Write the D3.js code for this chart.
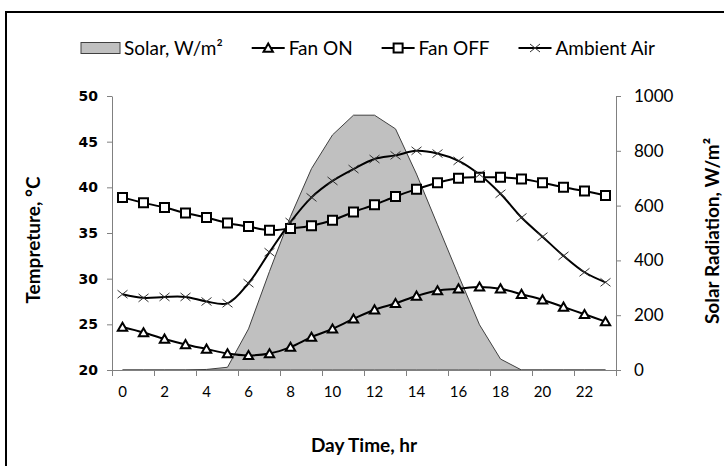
<!DOCTYPE html>
<html>
<head>
<meta charset="utf-8">
<script src="https://cdn.jsdelivr.net/npm/d3@7"></script>
<style>
body { margin: 0; background: #fff; }
text { font-family: Lato, "Open Sans", sans-serif; fill: #000; }
</style>
</head>
<body>
<div id="chart"></div>
<script>
// hours of the day (categories)
var hours = [0, 1, 2, 3, 4, 5, 6, 7, 8, 9, 10, 11, 12, 13, 14, 15, 16, 17, 18, 19, 20, 21, 22, 23];
var hourLabels = [0, 2, 4, 6, 8, 10, 12, 14, 16, 18, 20, 22];

// temperatures, C
var fanOn = [24.7, 24.1, 23.4, 22.8, 22.3, 21.8, 21.6, 21.8, 22.5, 23.6, 24.5, 25.6,
             26.6, 27.3, 28.1, 28.7, 28.9, 29.1, 28.9, 28.3, 27.7, 26.9, 26.1, 25.3];
var fanOff = [38.9, 38.3, 37.8, 37.2, 36.7, 36.1, 35.7, 35.3, 35.5, 35.8, 36.4, 37.3,
              38.1, 39.0, 39.8, 40.5, 41.0, 41.1, 41.1, 40.9, 40.5, 40.0, 39.6, 39.1];
var ambient = [28.3, 27.9, 28.0, 28.0, 27.5, 27.3, 29.5, 32.9, 36.2, 38.9, 40.7, 42.0,
               43.1, 43.5, 44.0, 43.7, 42.9, 41.4, 39.3, 36.7, 34.6, 32.5, 30.7, 29.6];
// solar radiation, W/m2
var solar = [0, 0, 0, 0, 2, 10, 150, 360, 560, 735, 858, 930,
             930, 880, 715, 530, 345, 165, 40, 0, 0, 0, 0, 0];

var tempTicks = [20, 25, 30, 35, 40, 45, 50];
var solarTicks = [0, 200, 400, 600, 800, 1000];

var W = 724, H = 466;
var plotL = 112, plotR = 616, plotT = 96, plotB = 370;

var svg = d3.select("#chart").append("svg")
    .attr("width", W)
    .attr("height", H);

// outer frame (right and bottom edges fall outside the picture)
svg.append("rect")
    .attr("x", 6).attr("y", 12)
    .attr("width", W).attr("height", H)
    .attr("fill", "none")
    .attr("stroke", "#000")
    .attr("stroke-width", 2);

var x = d3.scaleLinear().domain([0, 24]).range([plotL, plotR]);
var yT = d3.scaleLinear().domain([20, 50]).range([plotB, plotT]);
var yS = d3.scaleLinear().domain([0, 1000]).range([plotB, plotT]);

function px(d, i) { return x(hours[i] + 0.5); }

// solar area
var area = d3.area()
    .x(px)
    .y0(yS(0))
    .y1(function (d) { return yS(d); });

svg.append("path")
    .datum(solar)
    .attr("d", area)
    .attr("fill", "#c0c0c0")
    .attr("stroke", "#404040")
    .attr("stroke-width", 1);

// axes
var xAxis = svg.append("g")
    .attr("transform", "translate(0," + plotB + ")")
    .call(d3.axisBottom(x).tickValues(d3.range(0, 25, 2)).tickSize(6).tickSizeOuter(0).tickFormat(""));
xAxis.selectAll("path, line").attr("stroke", "#808080");

svg.append("g").selectAll("text")
    .data(hourLabels)
    .enter().append("text")
    .attr("x", function (d) { return x(d + 0.5); })
    .attr("y", 397)
    .attr("text-anchor", "middle")
    .style("font-size", "15px")
    .text(function (d) { return d; });

var lAxis = svg.append("g")
    .attr("transform", "translate(" + plotL + ",0)")
    .call(d3.axisLeft(yT).tickValues(tempTicks).tickSize(5).tickSizeOuter(0).tickPadding(9));
lAxis.selectAll("path, line").attr("stroke", "#808080");
lAxis.selectAll("text")
    .style("font-family", "'DejaVu Sans', Verdana, sans-serif")
    .style("font-weight", "bold")
    .style("font-size", "14px")
    .attr("fill", "#000");

var rAxis = svg.append("g")
    .attr("transform", "translate(" + plotR + ",0)")
    .call(d3.axisRight(yS).tickValues(solarTicks).tickFormat(d3.format("d"))
        .tickSize(5).tickSizeOuter(0).tickPadding(13));
rAxis.selectAll("path, line").attr("stroke", "#808080");
rAxis.selectAll("text")
    .style("font-family", "Lato, sans-serif")
    .style("font-size", "17px")
    .attr("fill", "#000");

// temperature lines
var line = function (vals) {
    return d3.line()
        .x(px)
        .y(function (d) { return yT(d); })
        .curve(d3.curveCatmullRom.alpha(0.5))(vals);
};

[fanOn, fanOff, ambient].forEach(function (vals) {
    svg.append("path")
        .attr("d", line(vals))
        .attr("fill", "none")
        .attr("stroke", "#000")
        .attr("stroke-width", 2);
});

// markers
var triangle = d3.symbol().type(d3.symbolTriangle).size(38);
var square = d3.symbol().type(d3.symbolSquare).size(81);
var crossPath = "M-5,-4L5,4M-5,4L5,-4";

svg.append("g").selectAll("path")
    .data(fanOn)
    .enter().append("path")
    .attr("transform", function (d, i) { return "translate(" + px(d, i) + "," + (yT(d) + 1) + ")"; })
    .attr("d", triangle)
    .attr("fill", "#fff")
    .attr("stroke", "#000")
    .attr("stroke-width", 2);

svg.append("g").selectAll("path")
    .data(fanOff)
    .enter().append("path")
    .attr("transform", function (d, i) { return "translate(" + px(d, i) + "," + yT(d) + ")"; })
    .attr("d", square)
    .attr("fill", "#fff")
    .attr("stroke", "#000")
    .attr("stroke-width", 2);

svg.append("g").selectAll("path")
    .data(ambient)
    .enter().append("path")
    .attr("transform", function (d, i) { return "translate(" + px(d, i) + "," + yT(d) + ")"; })
    .attr("d", crossPath)
    .attr("stroke", "#333")
    .attr("stroke-width", 1)
    .attr("fill", "none");

// axis titles
svg.append("text")
    .attr("x", 364).attr("y", 452)
    .attr("text-anchor", "middle")
    .style("font-size", "19px")
    .style("font-weight", "bold")
    .text("Day Time, hr");

svg.append("text")
    .attr("transform", "translate(40,240) rotate(-90)")
    .attr("text-anchor", "middle")
    .style("font-size", "19px")
    .style("font-weight", "bold")
    .text("Tempreture, \u00B0C");

svg.append("text")
    .attr("transform", "translate(719,231) rotate(-90)")
    .attr("text-anchor", "middle")
    .style("font-size", "19px")
    .style("font-weight", "bold")
    .text("Solar Radiation, W/m\u00B2");

// legend
var legendItems = [
    { label: "Solar, W/m\u00B2", kind: "area" },
    { label: "Fan ON", kind: "tri" },
    { label: "Fan OFF", kind: "sq" },
    { label: "Ambient Air", kind: "x" }
];
var legend = svg.append("g").attr("transform", "translate(0,48)");
var items = legend.selectAll("g")
    .data(legendItems)
    .enter().append("g");
items.append("text")
    .attr("y", 7)
    .style("font-size", "19px")
    .text(function (d) { return d.label; });

var sampleW = function (d) { return d.kind === "area" ? 39 : 33; };
var widths = [];
items.select("text").each(function (d) { widths.push(sampleW(d) + 4 + this.getComputedTextLength()); });
var gap = (655 - 81 - d3.sum(widths)) / (widths.length - 1);
var pos = 81;
items.each(function (d, i) {
    var g = d3.select(this).attr("transform", "translate(" + pos + ",0)");
    var w = sampleW(d);
    g.select("text").attr("x", w + 4);
    if (d.kind === "area") {
        g.insert("rect", "text")
            .attr("x", 0).attr("y", -5.5)
            .attr("width", w).attr("height", 11)
            .attr("fill", "#c0c0c0")
            .attr("stroke", "#404040")
            .attr("stroke-width", 1);
    } else {
        g.append("line")
            .attr("x1", 0).attr("x2", w)
            .attr("stroke", "#000").attr("stroke-width", 2);
        var m = g.append("path").attr("transform", "translate(" + w / 2 + "," + (d.kind === "tri" ? 1 : 0) + ")");
        if (d.kind === "tri") {
            m.attr("d", triangle).attr("fill", "#fff").attr("stroke", "#000").attr("stroke-width", 2);
        } else if (d.kind === "sq") {
            m.attr("d", square).attr("fill", "#fff").attr("stroke", "#000").attr("stroke-width", 2);
        } else {
            m.attr("d", crossPath).attr("stroke", "#333").attr("stroke-width", 1);
        }
    }
    pos += widths[i] + gap;
});
</script>
</body>
</html>
